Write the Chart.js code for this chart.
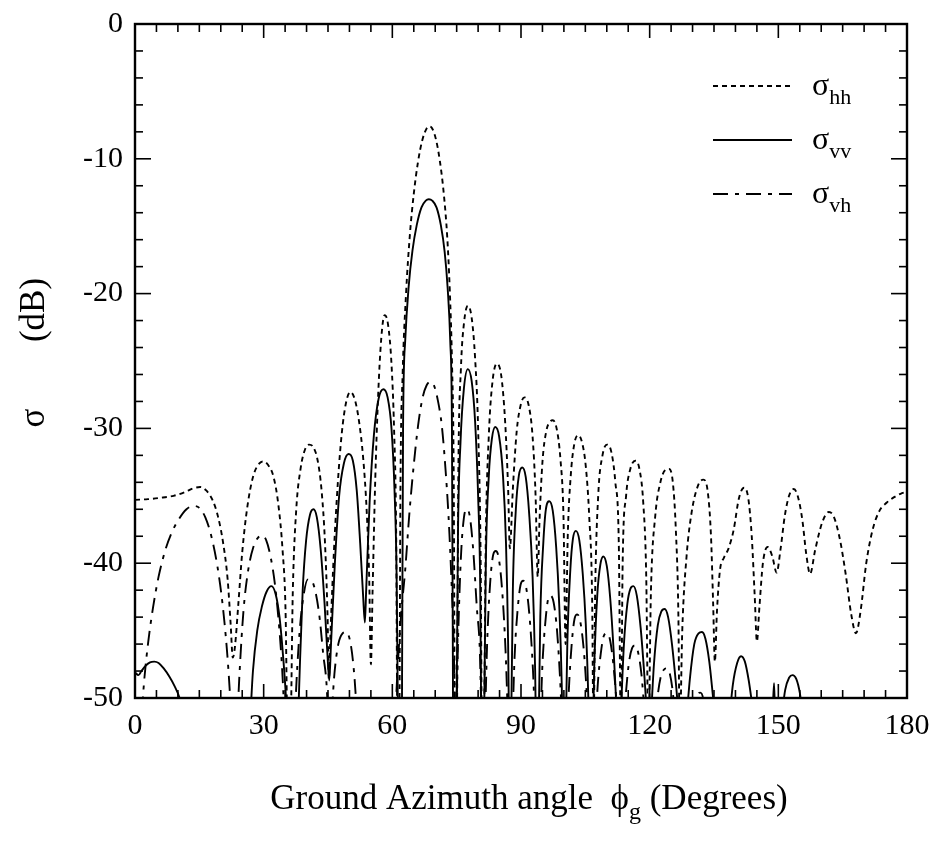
<!DOCTYPE html>
<html>
<head>
<meta charset="utf-8">
<script src="https://cdn.jsdelivr.net/npm/chart.js@4.4.1/dist/chart.umd.min.js"></script>
<style>
  html, body { margin: 0; padding: 0; background: #fff; }
  #wrap { width: 929px; height: 842px; }
</style>
</head>
<body>
<div id="wrap"><canvas id="chart" width="929" height="842"></canvas></div>
<script>
  // axis ticks
  const xMajor = [0, 30, 60, 90, 120, 150, 180];
  const yMajor = [-50, -40, -30, -20, -10, 0];
  const xMinorStep = 5;
  const yMinorStep = 2;

  // legend / series names (subscripts)
  const seriesSubs = ['hh', 'vv', 'vh'];

  // [angle (deg), sigma (dB)], null = gap
  const sigmaHH = [
    [0,-35.3],[3,-35.25],[6,-35.15],[9,-35.0],[11.5,-34.75],[13.5,-34.45],[15.2,-34.35],[16.6,-34.6],
    [18.2,-35.4],[19.4,-36.6],[20.6,-38.6],[21.6,-41.2],[22.3,-44.5],[22.8,-47.0],[23.3,-46.2],[24.1,-43],
    [25.0,-39.2],[26.2,-35.8],[27.6,-33.5],[29.0,-32.6],[29.8,-32.45],[31.0,-32.7],[32.3,-33.6],[33.4,-35.6],
    [34.4,-39.0],[35.1,-43.5],[35.6,-53],[36.2,-53],[36.8,-42],[37.6,-36],[38.6,-33],[39.6,-31.6],
    [40.6,-31.2],[41.6,-31.4],[42.6,-32.4],[43.5,-34.6],[44.3,-38.5],[44.9,-44],[45.2,-48.6],[45.6,-45],
    [46.4,-39],[47.3,-34],[48.2,-30.4],[49.2,-28.1],[50.2,-27.3],[51.2,-27.8],[52.2,-29.4],[53.2,-32.2],
    [54.0,-36.0],[54.6,-41],[55.0,-47.5],[55.4,-42],[56.0,-34],[56.7,-27.5],[57.4,-23.4],[58.2,-21.6],
    [59.0,-22.3],[59.8,-25.2],[60.4,-30],[60.9,-38],[61.2,-53],[61.6,-53],[61.9,-34],[62.4,-26],
    [63.2,-20],[64.1,-15.6],[65.0,-12.6],[66.0,-10.2],[67.0,-8.6],[68.0,-7.75],[68.6,-7.6],[69.3,-7.75],
    [70.2,-8.6],[71.1,-10.2],[72.0,-12.6],[72.8,-15.8],[73.4,-19.8],[73.9,-25],[74.3,-33],[74.6,-53],
    [75.0,-53],[75.4,-33],[76.0,-25.5],[76.7,-22.2],[77.6,-20.9],[78.5,-21.8],[79.3,-24.8],[80.0,-30],
    [80.6,-40],[80.9,-53],[81.3,-53],[81.8,-38],[82.5,-30.5],[83.4,-26.4],[84.4,-25.2],[85.4,-26.1],
    [86.3,-29.5],[87.0,-34.5],[87.4,-38.9],[88.1,-34.5],[89.0,-30.2],[89.9,-28.3],[90.8,-27.7],[91.8,-28.3],
    [92.7,-30.6],[93.4,-35],[93.9,-41],[94.3,-37],[95.0,-32.5],[95.9,-30.2],[96.8,-29.5],[97.4,-29.4],
    [98.3,-30],[99.2,-32.3],[99.9,-36.5],[100.4,-46],[100.9,-38],[101.6,-33.5],[102.4,-31.2],[103.3,-30.5],
    [104.2,-31.0],[105.1,-32.8],[105.9,-36.5],[106.6,-43],[106.9,-53],[107.3,-42],[108.0,-35],[109.0,-32],
    [110.1,-31.2],[111.1,-31.8],[112.0,-34],[112.8,-38.5],[113.3,-53],[113.7,-40],[114.5,-35],[115.5,-33],
    [116.7,-32.4],[117.6,-33],[118.5,-35.5],[119.2,-41],[119.7,-53],[120.3,-42],[121.3,-36.5],[122.5,-34],
    [123.6,-33.1],[124.5,-33.0],[125.4,-34],[126.1,-37.5],[126.7,-44],[127.0,-53],[127.6,-45],[128.6,-39.5],
    [129.8,-36.2],[131.2,-34.3],[132.5,-33.8],[133.5,-34.6],[134.3,-38],[134.8,-43],[135.2,-47.3],[135.7,-43.5],
    [136.4,-40.5],[137.3,-39.6],[138.4,-38.9],[139.6,-37.5],[140.8,-35.2],[142.0,-34.4],[143.0,-35.2],[143.8,-38],
    [144.5,-42.5],[145.0,-45.8],[145.6,-43.2],[146.4,-40],[147.5,-38.8],[148.6,-39.5],[149.6,-40.7],[150.5,-39],
    [151.5,-36.5],[152.5,-35],[153.6,-34.5],[154.6,-35.1],[155.6,-36.8],[156.5,-39.3],[157.4,-40.8],[158.6,-39],
    [160.2,-37],[161.8,-36.2],[163.0,-36.6],[164.4,-38.3],[165.7,-40.8],[167.0,-43.8],[168.1,-45.2],[169.2,-43.5],
    [170.5,-40],[172.0,-37.5],[173.6,-36.1],[175.3,-35.5],[177.0,-35.1],[178.5,-34.85],[180,-34.7]
  ];

  const sigmaVV = [
    [0,-48.1],[0.8,-48.3],[1.5,-48.0],[2.5,-47.6],[3.5,-47.35],[4.5,-47.3],[5.5,-47.4],[6.7,-47.8],
    [8.0,-48.4],[9.2,-49.1],[10.4,-50],[11.2,-51],[18,null],
    [26.8,-52],[27.5,-48],[28.5,-45],[29.6,-43.2],[30.7,-42.1],[31.8,-41.7],[32.8,-42.3],[33.7,-44],
    [34.5,-46.8],[35.2,-50],[35.6,-53],[36.5,null],
    [37.9,-53],[38.4,-48],[39.1,-42],[39.9,-38.3],[40.8,-36.4],[41.6,-36.0],[42.4,-36.6],[43.3,-39],
    [44.2,-43],[45.0,-47.5],[45.3,-48.7],[45.7,-46],[46.6,-40],[47.6,-35],[48.7,-32.6],[49.8,-31.9],
    [50.8,-32.4],[51.7,-34.6],[52.5,-38.5],[53.2,-42.5],[53.6,-44.4],[53.9,-42],[54.7,-35.5],[55.7,-30.5],
    [56.8,-27.8],[57.9,-27.1],[58.9,-27.7],[59.8,-30],[60.5,-34.5],[61.0,-41],[61.4,-55],[61.8,null],
    [62.2,-55],[62.5,-30],[63.0,-23.5],[63.8,-19.5],[64.7,-16.8],[65.7,-14.9],[66.8,-13.6],[67.8,-13.1],
    [68.5,-13.0],[69.3,-13.1],[70.3,-13.6],[71.3,-14.9],[72.2,-16.9],[72.9,-19.6],[73.5,-23.5],[73.9,-30],
    [74.2,-55],[74.5,null],
    [74.9,-55],[75.3,-38],[75.9,-31],[76.7,-27],[77.6,-25.6],[78.5,-26.5],[79.3,-29.5],[80.0,-35],
    [80.5,-42],[80.8,-55],[81.0,null],
    [81.3,-55],[81.8,-40],[82.5,-33.5],[83.2,-30.8],[84.0,-29.9],[84.9,-30.6],[85.8,-33.5],[86.5,-38.5],
    [87.0,-46],[87.3,-55],[87.5,null],
    [87.6,-55],[88.1,-42],[88.8,-36],[89.5,-33.5],[90.3,-32.9],[91.1,-33.6],[91.9,-36.3],[92.7,-41],
    [93.3,-48],[93.6,-55],[93.8,null],
    [94.0,-55],[94.5,-44],[95.2,-38.5],[95.8,-36],[96.6,-35.4],[97.4,-36.1],[98.2,-38.8],[98.9,-43],
    [99.5,-49],[99.8,-55],[100.0,null],
    [100.3,-55],[100.8,-46],[101.5,-40.5],[102.1,-38.2],[102.8,-37.6],[103.6,-38.3],[104.4,-40.8],[105.1,-44.5],
    [105.7,-50],[106.0,-55],[106.3,null],
    [106.6,-55],[107.1,-47.5],[107.8,-42.3],[108.5,-40.1],[109.2,-39.5],[110.0,-40.2],[110.8,-42.6],[111.6,-46.5],
    [112.3,-51],[112.8,null],
    [113.3,-51],[114.0,-46],[114.8,-43],[115.5,-41.9],[116.2,-41.7],[117.0,-42.4],[117.9,-44.8],[118.8,-48.5],
    [119.4,-51.5],[119.8,null],
    [120.3,-51.5],[121.0,-47.5],[121.9,-44.6],[122.7,-43.6],[123.5,-43.4],[124.3,-44],[125.2,-46],[126.2,-49.2],
    [126.8,-51.5],[127.5,null],
    [128.6,-51.5],[129.4,-48.5],[130.4,-46.0],[131.4,-45.2],[132.2,-45.1],[133.0,-45.6],[133.9,-47.3],[134.8,-50],
    [135.3,-51.5],[137,null],
    [138.6,-51.5],[139.4,-49],[140.4,-47.4],[141.3,-46.9],[142.2,-47.3],[143.1,-48.7],[143.9,-50.5],[144.3,-51.5],
    [146,null],
    [148.7,-51],[149.0,-48.9],[149.2,-51],[150,null],
    [150.9,-51],[151.6,-49.4],[152.5,-48.5],[153.3,-48.3],[154.2,-48.6],[155.0,-49.6],[155.6,-51]
  ];

  const sigmaVH = [
    [1.6,-51],[2.2,-48.5],[3.1,-45.8],[4.2,-43.3],[5.5,-41],[7.0,-39.1],[8.6,-37.7],[10.3,-36.7],
    [12.0,-36.0],[13.6,-35.75],[15.0,-35.9],[16.4,-36.6],[17.8,-38],[19.2,-40.2],[20.4,-43],[21.4,-46.3],
    [22.1,-49.5],[22.5,-52],[23.2,null],
    [23.8,-52],[24.4,-48],[25.3,-43.5],[26.4,-40.5],[27.6,-38.8],[28.7,-38.1],[29.6,-37.95],[30.6,-38.3],
    [31.6,-39.5],[32.6,-41.5],[33.5,-44.3],[34.3,-47.8],[34.8,-51],[36,null],
    [37.2,-52],[37.7,-48.5],[38.4,-45],[39.3,-42.4],[40.3,-41.2],[41.2,-41.3],[42.2,-42.3],[43.1,-44.2],
    [43.9,-46.8],[44.6,-48.7],[45.0,-51],[45.5,null],
    [45.9,-51],[46.5,-48.2],[47.4,-46],[48.4,-45.2],[49.2,-45.1],[50.1,-45.7],[50.9,-47.5],[51.5,-50],
    [51.8,-52],[56,null],
    [60.6,-52],[61.2,-48],[62.0,-44],[63.0,-40.5],[64.0,-36.2],[65.0,-32.7],[66.0,-29.8],[67.0,-27.8],
    [68.0,-26.8],[68.9,-26.55],[69.7,-26.8],[70.6,-27.9],[71.5,-29.7],[72.3,-32.6],[73.1,-36.5],[73.8,-41.4],
    [74.3,-46],[74.7,-52],[74.8,null],
    [74.9,-52],[75.3,-46],[76.0,-39.5],[76.7,-36.6],[77.4,-36.0],[78.1,-36.6],[78.9,-39.2],[79.7,-43.3],
    [80.4,-46.5],[80.8,-52],[81.2,null],
    [81.6,-52],[82.1,-46],[82.8,-41.5],[83.5,-39.4],[84.1,-39.1],[84.8,-39.6],[85.6,-42],[86.4,-46.5],
    [87.0,-52],[87.5,null],
    [88.0,-52],[88.5,-47],[89.2,-43.5],[89.9,-41.6],[90.5,-41.3],[91.2,-41.8],[92.0,-44],[92.8,-48],
    [93.3,-52],[94,null],
    [94.5,-52],[95.0,-47.5],[95.7,-44.3],[96.3,-42.7],[96.9,-42.4],[97.6,-42.9],[98.4,-45],[99.1,-48.5],
    [99.6,-52],[100.2,null],
    [100.8,-52],[101.3,-48.5],[101.9,-45.7],[102.5,-44.1],[103.1,-43.8],[103.8,-44.3],[104.6,-46.3],[105.3,-49.5],
    [105.7,-52],[106.5,null],
    [107.4,-52],[107.9,-49],[108.6,-46.7],[109.3,-45.4],[110.0,-45.2],[110.7,-45.6],[111.5,-47.4],[112.2,-50],
    [112.6,-52],[113.3,null],
    [114.0,-52],[114.5,-49.5],[115.2,-47.3],[115.9,-46.3],[116.6,-46.1],[117.3,-46.6],[118.1,-48.3],[118.8,-51],
    [120,null],
    [121.2,-52],[121.8,-50],[122.6,-48.4],[123.3,-47.9],[124.0,-47.8],[124.7,-48.2],[125.4,-49.6],[126.0,-52],
    [128,null],
    [129.8,-52],[130.5,-50.3],[131.2,-49.7],[131.8,-49.6],[132.5,-50.1],[133.1,-52]
  ];

  const serif = '"Liberation Serif", "Times New Roman", serif';
  const toPts = (arr) => arr.map(([x, y]) => ({ x, y }));

  function sigmaText(ctx, x, baseY, sub, size, subSize) {
    ctx.font = size + 'px ' + serif;
    ctx.fillText('σ', x, baseY);
    const w = ctx.measureText('σ').width;
    ctx.font = subSize + 'px ' + serif;
    ctx.fillText(sub, x + w, baseY + size * 0.27);
  }

  const decor = {
    id: 'decor',
    afterDatasetsDraw(chart) {
      const { ctx, chartArea: a, scales: { x, y } } = chart;
      ctx.save();
      ctx.strokeStyle = '#000';
      ctx.fillStyle = '#000';
      ctx.lineCap = 'butt';

      const seg = (x1, y1, x2, y2) => { ctx.beginPath(); ctx.moveTo(x1, y1); ctx.lineTo(x2, y2); ctx.stroke(); };

      // inward ticks on all four sides
      ctx.lineWidth = 1.6;
      for (let v = xMajor[0]; v <= xMajor[xMajor.length - 1]; v += xMinorStep) {
        const px = x.getPixelForValue(v);
        const len = xMajor.includes(v) ? 14 : 8;
        seg(px, a.bottom, px, a.bottom - len);
        seg(px, a.top, px, a.top + len);
      }
      for (let v = yMajor[0]; v <= yMajor[yMajor.length - 1]; v += yMinorStep) {
        const py = y.getPixelForValue(v);
        const len = yMajor.includes(v) ? 16 : 8;
        seg(a.left, py, a.left + len, py);
        seg(a.right, py, a.right - len, py);
      }

      // frame
      ctx.lineWidth = 2.4;
      ctx.strokeRect(a.left, a.top, a.right - a.left, a.bottom - a.top);

      // legend
      const rows = [86, 140, 194];
      chart.data.datasets.forEach((ds, i) => {
        ctx.lineWidth = 1.9;
        ctx.setLineDash(ds.borderDash || []);
        seg(713, rows[i], 792, rows[i]);
        ctx.setLineDash([]);
        ctx.textAlign = 'left';
        ctx.textBaseline = 'alphabetic';
        sigmaText(ctx, 812, rows[i] + 9, seriesSubs[i], 32, 22);
      });

      // x title with subscript
      const big = '35px ' + serif, small = '24px ' + serif;
      const t1 = 'Ground Azimuth angle  ϕ', t2 = 'g', t3 = ' (Degrees)';
      ctx.font = big; const w1 = ctx.measureText(t1).width, w3 = ctx.measureText(t3).width;
      ctx.font = small; const w2 = ctx.measureText(t2).width;
      const sx = (a.left + a.right) / 2 - (w1 + w2 + w3) / 2 + 8;
      const by = 809;
      ctx.font = big; ctx.fillText(t1, sx, by);
      ctx.font = small; ctx.fillText(t2, sx + w1, by + 10);
      ctx.font = big; ctx.fillText(t3, sx + w1 + w2, by);

      // y title (rotated)
      ctx.save();
      ctx.translate(35, 0);
      ctx.rotate(-Math.PI / 2);
      ctx.textAlign = 'center';
      ctx.textBaseline = 'middle';
      ctx.font = big;
      ctx.fillText('σ', -418, 0);
      ctx.fillText('(dB)', -310, 0);
      ctx.restore();

      ctx.restore();
    }
  };

  const lineDefaults = {
    borderColor: '#000',
    borderWidth: 1.9,
    pointRadius: 0,
    fill: false,
    cubicInterpolationMode: 'monotone',
    spanGaps: false
  };

  new Chart(document.getElementById('chart').getContext('2d'), {
    type: 'line',
    data: {
      datasets: [
        { ...lineDefaults, label: 'σhh', data: toPts(sigmaHH), borderDash: [5, 4] },
        { ...lineDefaults, label: 'σvv', data: toPts(sigmaVV) },
        { ...lineDefaults, label: 'σvh', data: toPts(sigmaVH), borderDash: [15, 7, 4, 7] }
      ]
    },
    options: {
      responsive: false,
      animation: false,
      layout: { padding: { left: 0, right: 22, top: 24, bottom: 0 } },
      plugins: { legend: { display: false }, tooltip: { enabled: false } },
      scales: {
        x: {
          type: 'linear',
          min: 0, max: 180,
          afterBuildTicks: (s) => { s.ticks = xMajor.map((v) => ({ value: v })); },
          afterFit: (s) => { s.height = 144; s.paddingLeft = 0; s.paddingRight = 0; },
          ticks: { color: '#000', font: { family: serif, size: 30 }, padding: 10, maxRotation: 0 },
          grid: { display: false, drawTicks: false },
          border: { display: false }
        },
        y: {
          type: 'linear',
          min: -50, max: 0,
          afterBuildTicks: (s) => { s.ticks = yMajor.map((v) => ({ value: v })); },
          afterFit: (s) => { s.width = 135; s.paddingTop = 0; s.paddingBottom = 0; },
          ticks: { color: '#000', font: { family: serif, size: 30 }, padding: 12, callback: (v) => String(v) },
          grid: { display: false, drawTicks: false },
          border: { display: false }
        }
      }
    },
    plugins: [decor]
  });
</script>
</body>
</html>
